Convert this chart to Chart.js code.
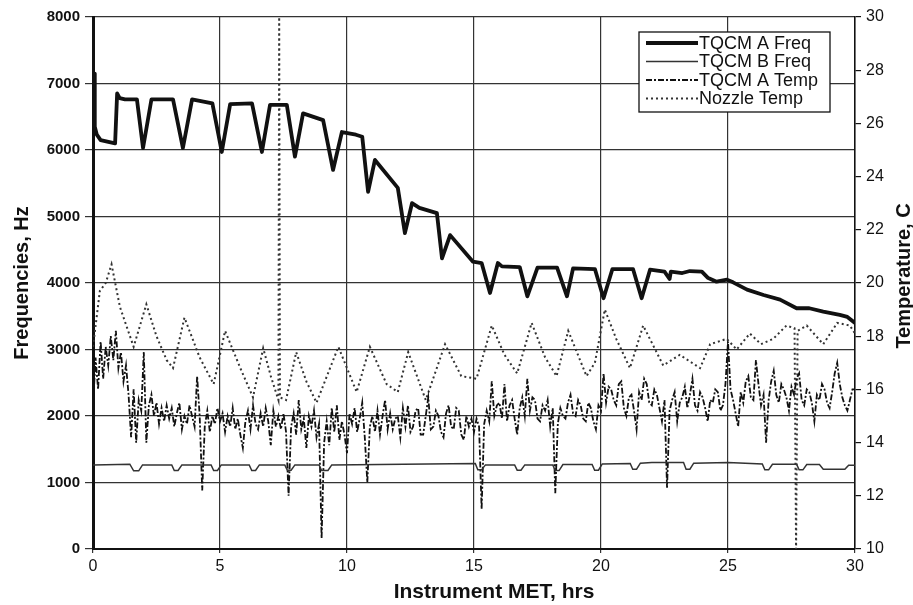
<!DOCTYPE html>
<html>
<head>
<meta charset="utf-8">
<script src="https://cdn.jsdelivr.net/npm/chart.js@4/dist/chart.umd.min.js"></script>
<style>
  html, body { margin: 0; padding: 0; background: #fff; }
  #wrap { width: 913px; height: 605px; }
</style>
</head>
<body>
<div id="wrap"><canvas id="tqcmChart" width="913" height="605"></canvas></div>
<script>
// hours and values
const aFreqT = [0.04, 0.07, 0.15, 0.3, 0.87, 0.95, 1.05, 1.26, 1.73, 1.97, 2.3, 3.15, 3.54, 3.9, 4.2, 4.7, 5.07, 5.4, 6.26, 6.65, 6.97, 7.63, 7.95, 8.27, 9.06, 9.45, 9.8, 10.35, 10.6, 10.83, 11.1, 12.0, 12.28, 12.56, 12.85, 13.54, 13.74, 14.06, 14.96, 15.3, 15.63, 15.94, 16.1, 16.8, 17.1, 17.5, 18.27, 18.66, 18.9, 19.76, 20.1, 20.45, 21.26, 21.6, 21.93, 22.5, 22.7, 22.75, 23.2, 23.5, 23.97, 24.2, 24.55, 24.96, 25.2, 25.75, 26.4, 27.05, 27.7, 28.2, 28.75, 29.4, 29.7, 30];
const aFreqV = [7150, 6350, 6230, 6150, 6100, 6850, 6780, 6760, 6760, 6030, 6760, 6760, 6030, 6760, 6740, 6700, 5970, 6690, 6700, 5970, 6680, 6680, 5900, 6550, 6450, 5700, 6270, 6230, 6200, 5370, 5850, 5430, 4750, 5200, 5130, 5050, 4370, 4720, 4320, 4300, 3850, 4300, 4250, 4240, 3800, 4230, 4230, 3800, 4220, 4210, 3770, 4210, 4210, 3770, 4200, 4170, 4060, 4170, 4150, 4180, 4170, 4080, 4020, 4050, 4010, 3900, 3820, 3750, 3620, 3620, 3570, 3520, 3490, 3400];

const bFreqT = [0, 1.45, 1.6, 1.8, 1.95, 3.1, 3.2, 3.35, 3.5, 4.65, 4.75, 4.9, 5.05, 6.15, 6.25, 6.4, 6.55, 7.55, 7.65, 7.8, 7.95, 8.9, 9.0, 9.25, 9.4, 15.05, 15.15, 15.3, 15.45, 16.6, 16.7, 16.85, 17.0, 18.1, 18.2, 18.35, 18.5, 19.65, 19.75, 19.9, 20.05, 21.15, 21.25, 21.4, 21.55, 22.0, 23.25, 23.35, 23.5, 23.65, 25.0, 26.35, 26.45, 26.6, 26.75, 27.7, 27.8, 27.95, 28.1, 28.6, 28.75, 29.6, 29.75, 30];
const bFreqV = [1265, 1275, 1175, 1175, 1265, 1265, 1180, 1180, 1265, 1265, 1180, 1180, 1265, 1265, 1180, 1180, 1265, 1265, 1185, 1185, 1265, 1265, 1180, 1180, 1265, 1285, 1190, 1190, 1265, 1265, 1185, 1185, 1265, 1265, 1180, 1180, 1270, 1270, 1185, 1185, 1280, 1285, 1200, 1200, 1290, 1300, 1300, 1200, 1200, 1290, 1300, 1280, 1190, 1190, 1275, 1275, 1190, 1190, 1270, 1270, 1200, 1200, 1260, 1260];

// TQCM A temperature, one reading every 0.1 h (rows are whole hours)
const aTempT = [
  0.0, 0.1, 0.2, 0.3, 0.4, 0.5, 0.6, 0.7, 0.8, 0.9,
  1.0, 1.1, 1.2, 1.3, 1.4, 1.5, 1.6, 1.7, 1.8, 1.9,
  2.0, 2.1, 2.2, 2.3, 2.4, 2.5, 2.6, 2.7, 2.8, 2.9,
  3.0, 3.1, 3.2, 3.3, 3.4, 3.5, 3.6, 3.7, 3.8, 3.9,
  4.0, 4.1, 4.2, 4.3, 4.4, 4.5, 4.6, 4.7, 4.8, 4.9,
  5.0, 5.1, 5.2, 5.3, 5.4, 5.5, 5.6, 5.7, 5.8, 5.9,
  6.0, 6.1, 6.2, 6.3, 6.4, 6.5, 6.6, 6.7, 6.8, 6.9,
  7.0, 7.1, 7.2, 7.3, 7.4, 7.5, 7.6, 7.7, 7.8, 7.9,
  8.0, 8.1, 8.2, 8.3, 8.4, 8.5, 8.6, 8.7, 8.8, 8.9,
  9.0, 9.1, 9.2, 9.3, 9.4, 9.5, 9.6, 9.7, 9.8, 9.9,
  10.0, 10.1, 10.2, 10.3, 10.4, 10.5, 10.6, 10.7, 10.8, 10.9,
  11.0, 11.1, 11.2, 11.3, 11.4, 11.5, 11.6, 11.7, 11.8, 11.9,
  12.0, 12.1, 12.2, 12.3, 12.4, 12.5, 12.6, 12.7, 12.8, 12.9,
  13.0, 13.1, 13.2, 13.3, 13.4, 13.5, 13.6, 13.7, 13.8, 13.9,
  14.0, 14.1, 14.2, 14.3, 14.4, 14.5, 14.6, 14.7, 14.8, 14.9,
  15.0, 15.1, 15.2, 15.3, 15.4, 15.5, 15.6, 15.7, 15.8, 15.9,
  16.0, 16.1, 16.2, 16.3, 16.4, 16.5, 16.6, 16.7, 16.8, 16.9,
  17.0, 17.1, 17.2, 17.3, 17.4, 17.5, 17.6, 17.7, 17.8, 17.9,
  18.0, 18.1, 18.2, 18.3, 18.4, 18.5, 18.6, 18.7, 18.8, 18.9,
  19.0, 19.1, 19.2, 19.3, 19.4, 19.5, 19.6, 19.7, 19.8, 19.9,
  20.0, 20.1, 20.2, 20.3, 20.4, 20.5, 20.6, 20.7, 20.8, 20.9,
  21.0, 21.1, 21.2, 21.3, 21.4, 21.5, 21.6, 21.7, 21.8, 21.9,
  22.0, 22.1, 22.2, 22.3, 22.4, 22.5, 22.6, 22.7, 22.8, 22.9,
  23.0, 23.1, 23.2, 23.3, 23.4, 23.5, 23.6, 23.7, 23.8, 23.9,
  24.0, 24.1, 24.2, 24.3, 24.4, 24.5, 24.6, 24.7, 24.8, 24.9,
  25.0, 25.1, 25.2, 25.3, 25.4, 25.5, 25.6, 25.7, 25.8, 25.9,
  26.0, 26.1, 26.2, 26.3, 26.4, 26.5, 26.6, 26.7, 26.8, 26.9,
  27.0, 27.1, 27.2, 27.3, 27.4, 27.5, 27.6, 27.7, 27.8, 27.9,
  28.0, 28.1, 28.2, 28.3, 28.4, 28.5, 28.6, 28.7, 28.8, 28.9,
  29.0, 29.1, 29.2, 29.3, 29.4, 29.5, 29.6, 29.7, 29.8, 29.9,
  30.0
];
const aTempV = [
  15.3, 17.2, 16.0, 17.8, 16.4, 17.6, 16.9, 18.0, 17.1, 18.2,
  16.8, 17.4, 16.3, 16.9, 15.8, 14.2, 16.0, 14.0, 15.6, 15.2,
  17.4, 14.0, 15.4, 15.8, 15.0, 15.5, 14.7, 15.3, 14.8, 15.4,
  14.9, 15.3, 14.6, 15.1, 15.5, 14.5, 15.0, 14.7, 15.4, 15.0,
  14.6, 16.5, 15.0, 12.2, 14.6, 15.2, 14.4, 15.0, 14.7, 15.3,
  14.8, 15.1, 14.4, 15.0, 14.6, 15.3, 14.5, 14.9, 14.3, 13.8,
  14.8, 15.2, 14.5, 15.4, 14.7, 14.5, 15.1, 14.6, 15.3, 14.8,
  13.9, 15.2, 14.6, 15.0, 14.5, 15.1, 14.4, 12.0, 14.6, 15.1,
  14.3, 15.6, 14.5, 14.9, 13.8, 15.0, 14.6, 15.2, 14.2, 14.7,
  10.4, 14.0, 14.8, 13.9, 15.3, 14.4, 15.4, 14.1, 14.8, 14.3,
  13.6, 15.1, 14.7, 15.3, 14.4, 14.9, 15.5, 14.2, 12.5, 14.6,
  15.0, 14.4, 15.2, 14.3, 15.0, 15.6, 14.5, 15.1, 14.5, 14.9,
  15.0, 14.2, 15.3, 14.6, 15.4, 14.4, 14.6, 15.2, 15.3, 14.3,
  14.3, 15.0, 15.7, 14.5, 14.6, 15.2, 15.0, 14.4, 14.2, 15.1,
  15.4, 14.6, 14.5, 15.3, 15.2, 14.3, 14.1, 15.0, 14.6, 14.9,
  14.4, 14.9, 14.6, 11.5, 14.7, 15.2, 14.8, 16.3, 15.0, 15.4,
  15.5, 14.9, 16.2, 14.8, 15.4, 15.6, 14.9, 14.3, 15.3, 15.7,
  15.0, 16.4, 15.2, 15.7, 15.6, 14.9, 14.8, 15.4, 15.2, 15.6,
  14.6, 15.3, 12.1, 14.7, 15.3, 15.0, 14.9, 15.5, 15.8, 15.1,
  15.0, 15.6, 15.4, 14.9, 14.8, 15.5, 15.3, 14.8, 14.5, 15.4,
  15.2, 16.6, 15.5, 16.1, 16.0, 15.6, 15.4, 16.2, 16.3, 15.3,
  15.0, 15.7, 15.8, 15.2, 14.5, 15.9, 15.6, 16.4, 16.2, 15.5,
  15.4, 16.0, 15.8, 15.3, 14.8, 15.6, 12.3, 15.2, 15.6, 15.9,
  14.8, 15.5, 15.7, 16.1, 15.3, 15.8, 16.4, 15.4, 15.2, 15.9,
  15.7, 15.3, 14.8, 15.6, 15.5, 16.0, 15.9, 15.2, 15.4, 16.2,
  17.8, 16.0, 15.6, 15.1, 14.6, 15.9, 15.5, 16.3, 16.5, 15.7,
  15.6, 17.1, 16.2, 15.4, 15.8, 14.0, 15.6, 16.3, 16.7, 15.8,
  15.5, 16.2, 16.0, 15.7, 15.2, 16.1, 15.8, 16.4, 16.6, 15.6,
  15.4, 16.0, 15.9, 15.5, 14.8, 15.8, 15.6, 16.2, 16.0, 15.5,
  15.3, 15.9, 16.6, 17.0, 16.2, 15.7, 15.4, 15.2, 15.6, 16.0,
  16.0
];

const nozzleT = [0, 0.27, 0.5, 0.73, 1.06, 1.6, 2.1, 2.5, 2.9, 3.15, 3.6, 4.2, 4.75, 5.2, 5.8, 6.3, 6.7, 7.0, 7.3, 7.33, 7.36, 7.6, 8.0, 8.4, 8.8, 9.66, 10.38, 10.9, 11.56, 12.0, 12.41, 13.1, 13.86, 14.5, 15.1, 15.7, 16.2, 16.7, 17.27, 17.8, 18.25, 18.71, 19.43, 19.76, 20.15, 20.6, 21.14, 21.66, 22.45, 23.1, 23.9, 24.3, 24.95, 25.34, 25.86, 26.3, 26.78, 27.3, 27.62, 27.68, 27.74, 28.1, 28.75, 29.3, 29.8, 30];
const nozzleV = [17.6, 19.7, 20.0, 20.7, 19.1, 17.6, 19.2, 18.0, 17.1, 16.8, 18.7, 17.2, 16.2, 18.2, 16.8, 15.7, 17.55, 16.5, 15.6, 30, 15.7, 15.6, 17.4, 16.3, 15.5, 17.6, 15.9, 17.6, 16.2, 15.9, 17.4, 15.6, 17.7, 16.5, 16.4, 18.4, 17.3, 16.6, 18.5, 17.2, 16.5, 18.2, 16.5, 17.0, 19.0, 17.9, 16.8, 18.4, 16.9, 17.3, 16.8, 17.7, 17.9, 17.5, 18.1, 17.7, 17.9, 18.4, 18.3, 10, 18.2, 18.4, 17.7, 18.5, 18.4, 18.1];

const seriesNames = ['TQCM A Freq', 'TQCM B Freq', 'TQCM A Temp', 'Nozzle Temp'];
const xTicks = [0, 5, 10, 15, 20, 25, 30];

const toPoints = (xs, ys) => xs.map((x, i) => ({ x, y: ys[i] }));

// legend box inside the plot, plus the two titles chart.js can't place like the original
const overlay = {
  id: 'overlay',
  afterDraw(chart) {
    const ctx = chart.ctx;
    const bx = 639, by = 32, bw = 191, bh = 80;
    ctx.save();
    ctx.fillStyle = '#fff';
    ctx.fillRect(bx, by, bw, bh);
    ctx.strokeStyle = '#111';
    ctx.lineWidth = 1.3;
    ctx.strokeRect(bx, by, bw, bh);
    ctx.font = '18px "Liberation Sans", Arial, sans-serif';
    ctx.textBaseline = 'middle';
    chart.data.datasets.forEach((ds, i) => {
      const yy = by + 11 + i * 18.5;
      ctx.beginPath();
      ctx.strokeStyle = ds.borderColor;
      ctx.lineWidth = ds.borderWidth;
      ctx.setLineDash(ds.borderDash || []);
      ctx.moveTo(646, yy);
      ctx.lineTo(698, yy);
      ctx.stroke();
      ctx.setLineDash([]);
      ctx.fillStyle = '#111';
      ctx.fillText(ds.label, 699, yy + 1);
    });

    ctx.font = 'bold 21px "Liberation Sans", Arial, sans-serif';
    ctx.textAlign = 'center';
    ctx.fillText('Instrument MET, hrs', 494, 592);

    ctx.font = 'bold 20px "Liberation Sans", Arial, sans-serif';
    ctx.translate(904, 276);
    ctx.rotate(-Math.PI / 2);
    ctx.fillText('Temperature, C', 0, 0);
    ctx.restore();
  }
};

document.addEventListener('DOMContentLoaded', () => {
  const canvas = document.getElementById('tqcmChart');

  new Chart(canvas, {
    type: 'line',
    data: {
      datasets: [{
        label: seriesNames[0],
        data: toPoints(aFreqT, aFreqV),
        yAxisID: 'y',
        borderColor: '#111',
        borderWidth: 3.8,
        borderJoinStyle: 'round'
      }, {
        label: seriesNames[1],
        data: toPoints(bFreqT, bFreqV),
        yAxisID: 'y',
        borderColor: '#333',
        borderWidth: 1.5
      }, {
        label: seriesNames[2],
        data: toPoints(aTempT, aTempV),
        yAxisID: 'y2',
        borderColor: '#111',
        borderWidth: 1.8,
        borderDash: [6, 2, 2, 2]
      }, {
        label: seriesNames[3],
        data: toPoints(nozzleT, nozzleV),
        yAxisID: 'y2',
        borderColor: '#333',
        borderWidth: 2,
        borderDash: [2, 3]
      }]
    },
    options: {
      responsive: false,
      animation: false,
      elements: {
        point: { radius: 0 },
        line: { tension: 0, fill: false }
      },
      layout: { padding: { top: 17, left: 0, right: 0, bottom: 0 } },
      plugins: {
        legend: { display: false },
        tooltip: { enabled: false }
      },
      scales: {
        x: {
          type: 'linear',
          min: 0,
          max: 30,
          afterBuildTicks: (scale) => { scale.ticks = xTicks.map(v => ({ value: v })); },
          afterFit: (scale) => { scale.height = 56; },
          grid: { color: '#333', lineWidth: 1.2, tickLength: 4 },
          border: { color: '#111', width: 2 },
          ticks: {
            color: '#111',
            padding: 4,
            maxRotation: 0,
            font: { family: 'Liberation Sans', size: 16 }
          }
        },
        y: {
          position: 'left',
          min: 0,
          max: 8000,
          afterFit: (scale) => { scale.width = 93; },
          grid: { color: '#333', lineWidth: 1.2, tickLength: 8 },
          border: { color: '#111', width: 3 },
          ticks: {
            stepSize: 1000,
            color: '#111',
            padding: 5,
            callback: (v) => String(v),
            font: { family: 'Liberation Sans', size: 15, weight: 'bold' }
          },
          title: {
            display: true,
            text: 'Frequencies, Hz',
            color: '#111',
            padding: { top: 10, bottom: 0 },
            font: { family: 'Liberation Sans', size: 20, weight: 'bold' }
          }
        },
        y2: {
          position: 'right',
          min: 10,
          max: 30,
          afterFit: (scale) => { scale.width = 58; },
          grid: { drawOnChartArea: false, color: '#111', lineWidth: 1.2, tickLength: 6 },
          border: { color: '#111', width: 1.5 },
          ticks: {
            stepSize: 2,
            color: '#111',
            padding: 5,
            font: { family: 'Liberation Sans', size: 16 }
          }
        }
      }
    },
    plugins: [overlay]
  });
});
</script>
</body>
</html>
